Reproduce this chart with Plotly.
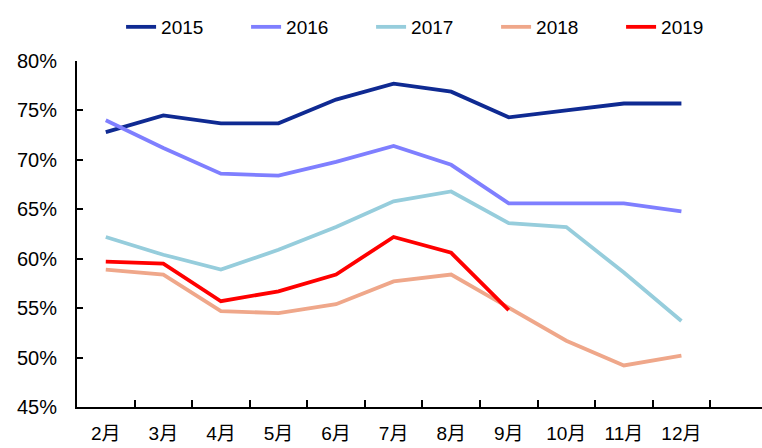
import plotly.graph_objects as go

months = ["2月", "3月", "4月", "5月", "6月", "7月", "8月", "9月", "10月", "11月", "12月"]
y2015 = [72.8, 74.5, 73.7, 73.7, 76.1, 77.7, 76.9, 74.3, 75.0, 75.7, 75.7]
y2016 = [74.0, 71.2, 68.6, 68.4, 69.8, 71.4, 69.5, 65.6, 65.6, 65.6, 64.8]
y2017 = [62.2, 60.4, 58.9, 60.9, 63.2, 65.8, 66.8, 63.6, 63.2, 58.6, 53.7]
y2018 = [58.9, 58.4, 54.7, 54.5, 55.4, 57.7, 58.4, 55.0, 51.7, 49.2, 50.2]
y2019 = [59.7, 59.5, 55.7, 56.7, 58.4, 62.2, 60.6, 54.8]
y_ticks = [45, 50, 55, 60, 65, 70, 75, 80]

series = [
    ("2015", y2015, "#0F2A92"),
    ("2016", y2016, "#7F7FFF"),
    ("2017", y2017, "#96CDDC"),
    ("2018", y2018, "#EFA78A"),
    ("2019", y2019, "#FF0000"),
]

fig = go.Figure()
for name, vals, color in series:
    fig.add_trace(go.Scatter(
        x=list(range(len(vals))), y=vals, name=name, mode="lines",
        line=dict(color=color, width=3.8), cliponaxis=False,
    ))

font_family = "Arial, Liberation Sans, Noto Sans CJK SC, sans-serif"
fig.update_layout(
    width=762, height=448,
    margin=dict(l=77, r=0, t=61, b=41, autoexpand=False),
    plot_bgcolor="white", paper_bgcolor="white",
    font=dict(family=font_family, size=19, color="black"),
    showlegend=True,
    legend=dict(
        orientation="h", x=0.569, xanchor="center", xref="container",
        y=1 - 27 / 448, yanchor="middle", yref="container",
        font=dict(size=19), entrywidth=80, entrywidthmode="pixels",
        bgcolor="rgba(0,0,0,0)",
    ),
)
fig.update_xaxes(
    range=[-0.5, 11.4],
    tickmode="array", tickvals=list(range(len(months))), ticktext=months,
    ticks="", showgrid=False, zeroline=False,
    showline=True, linecolor="black", linewidth=2,
    tickfont=dict(size=19), ticklabelstandoff=8,
    minor=dict(tickmode="array", tickvals=[i + 0.5 for i in range(len(months))],
               ticks="inside", ticklen=7, tickwidth=2, tickcolor="black", showgrid=False),
)
fig.update_yaxes(
    range=[45, 80], tickmode="array", tickvals=y_ticks,
    ticktext=[f"{v}%" for v in y_ticks],
    ticks="inside", ticklen=6, tickwidth=2, tickcolor="black",
    showgrid=False, zeroline=False,
    showline=True, linecolor="black", linewidth=2,
    tickfont=dict(size=20), ticklabelstandoff=14,
)

fig.write_html("out.html", config={"displayModeBar": False},
               post_script="document.body.style.margin='0';")
